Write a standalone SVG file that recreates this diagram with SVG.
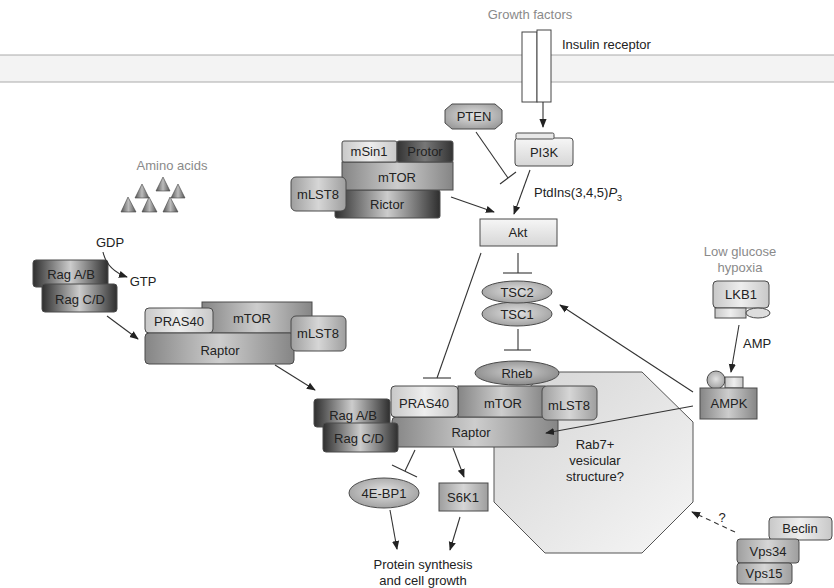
<svg xmlns="http://www.w3.org/2000/svg" width="834" height="588" viewBox="0 0 834 588">
<defs>
<style>
text{font-family:"Liberation Sans",Arial,sans-serif;font-size:13px;fill:#222;text-anchor:middle}
.g{fill:#8a8a8a}
.lbl{text-anchor:start}
.box{stroke:#4a4a4a;stroke-width:1}
.ln{stroke:#333;stroke-width:1.1;fill:none}
.ar{marker-end:url(#arr)}
</style>
<marker id="arr" viewBox="0 0 10 10" refX="9" refY="5" markerWidth="9" markerHeight="9" orient="auto" markerUnits="userSpaceOnUse"><path d="M0,1 L10,5 L0,9 z" fill="#222"/></marker>
<linearGradient id="gDark" x1="0" y1="0" x2="1" y2="0"><stop offset="0" stop-color="#2e2e2e"/><stop offset="0.2" stop-color="#6e6e6e"/><stop offset="0.5" stop-color="#cccccc"/><stop offset="0.8" stop-color="#6e6e6e"/><stop offset="1" stop-color="#2e2e2e"/></linearGradient>
<linearGradient id="gMid" x1="0" y1="0" x2="1" y2="0"><stop offset="0" stop-color="#858585"/><stop offset="0.5" stop-color="#cdcdcd"/><stop offset="1" stop-color="#858585"/></linearGradient>
<linearGradient id="gMidL" x1="0" y1="0" x2="1" y2="0"><stop offset="0" stop-color="#9e9e9e"/><stop offset="0.5" stop-color="#d6d6d6"/><stop offset="1" stop-color="#9e9e9e"/></linearGradient>
<linearGradient id="gLight" x1="0" y1="0" x2="1" y2="0"><stop offset="0" stop-color="#c8c8c8"/><stop offset="0.5" stop-color="#eeeeee"/><stop offset="1" stop-color="#c8c8c8"/></linearGradient>
<linearGradient id="gProtor" x1="0" y1="0" x2="1" y2="0"><stop offset="0" stop-color="#333"/><stop offset="0.5" stop-color="#777"/><stop offset="1" stop-color="#333"/></linearGradient>
<linearGradient id="gV" x1="0" y1="0" x2="0" y2="1"><stop offset="0" stop-color="#f6f6f6"/><stop offset="1" stop-color="#d6d6d6"/></linearGradient>
<radialGradient id="gEll" cx="0.5" cy="0.45" r="0.6"><stop offset="0" stop-color="#e2e2e2"/><stop offset="1" stop-color="#9c9c9c"/></radialGradient>
<radialGradient id="gEllD" cx="0.5" cy="0.45" r="0.6"><stop offset="0" stop-color="#cfcfcf"/><stop offset="1" stop-color="#868686"/></radialGradient>
<linearGradient id="gOct" x1="0" y1="0" x2="1" y2="1"><stop offset="0" stop-color="#d4d4d4"/><stop offset="1" stop-color="#f6f6f6"/></linearGradient>
<linearGradient id="gTri" x1="0" y1="0" x2="1" y2="0"><stop offset="0" stop-color="#555"/><stop offset="0.5" stop-color="#bbb"/><stop offset="1" stop-color="#555"/></linearGradient>
</defs>

<g id="membrane">
<rect x="0" y="55" width="834" height="27" fill="#f3f3f3"/>
<line x1="0" y1="55" x2="834" y2="55" stroke="#aaa"/>
<line x1="0" y1="82" x2="834" y2="82" stroke="#aaa"/>
</g>
<text class="g" x="530" y="19">Growth factors</text>

<g id="insulin-receptor">
<rect x="522" y="32" width="15" height="70" fill="#fff" stroke="#444"/>
<rect x="537" y="30" width="14" height="72" fill="#fff" stroke="#444"/>
<text class="lbl" x="562" y="49">Insulin receptor</text>
</g>

<g id="rab7-vesicle">
<polygon points="545,372 642,372 693,422 693,502 642,553 545,553 494,502 494,422" fill="url(#gOct)" stroke="#555"/>
<text x="595" y="449">Rab7+</text>
<text x="595" y="465">vesicular</text>
<text x="595" y="481">structure?</text>
</g>

<g id="PTEN">
<polygon class="box" points="452,104 495,104 502,110 502,123 495,129 452,129 445,123 445,110" fill="url(#gEll)"/>
<text x="474" y="121">PTEN</text>
</g>

<g id="PI3K">
<rect class="box" x="515" y="138" width="58" height="28" rx="3" fill="url(#gV)"/>
<rect class="box" x="516" y="133" width="38" height="6" rx="1.5" fill="#e8e8e8"/>
<text x="544" y="157">PI3K</text>
</g>

<g id="mTORC2">
<rect class="box" x="335" y="190" width="105" height="28" rx="2" fill="url(#gDark)"/>
<rect class="box" x="342" y="162" width="111" height="28" fill="url(#gMid)"/>
<rect class="box" x="342" y="141" width="55" height="21" rx="2" fill="url(#gLight)"/>
<rect class="box" x="397" y="141" width="56" height="21" rx="2" fill="url(#gProtor)"/>
<rect class="box" x="291" y="177" width="55" height="34" rx="5" fill="url(#gMidL)"/>
<text x="369" y="156">mSin1</text>
<text x="425" y="156" fill="#e6e6e6">Protor</text>
<text x="397" y="182">mTOR</text>
<text x="387" y="209">Rictor</text>
<text x="318" y="199">mLST8</text>
</g>

<g id="Akt">
<rect class="box" x="480" y="219" width="77" height="27" fill="url(#gV)"/>
<text x="518" y="237">Akt</text>
</g>

<g id="TSC">
<ellipse class="box" cx="517" cy="314" rx="35" ry="12" fill="url(#gEll)"/>
<ellipse class="box" cx="517" cy="292" rx="35" ry="11" fill="url(#gEll)"/>
<text x="517" y="297">TSC2</text>
<text x="517" y="319">TSC1</text>
</g>

<g id="amino-acids">
<text class="g" x="172" y="170">Amino acids</text>
<polygon points="163,177 156,191 170,191" fill="url(#gTri)" stroke="#444" stroke-width="0.6"/>
<polygon points="142,184 135,198 149,198" fill="url(#gTri)" stroke="#444" stroke-width="0.6"/>
<polygon points="178,184 171,198 185,198" fill="url(#gTri)" stroke="#444" stroke-width="0.6"/>
<polygon points="128,197 121,212 136,212" fill="url(#gTri)" stroke="#444" stroke-width="0.6"/>
<polygon points="149,197 142,212 157,212" fill="url(#gTri)" stroke="#444" stroke-width="0.6"/>
<polygon points="170,197 163,212 178,212" fill="url(#gTri)" stroke="#444" stroke-width="0.6"/>
</g>

<g id="Rag-left">
<rect class="box" x="33" y="260" width="75" height="27" rx="3" fill="url(#gDark)"/>
<rect class="box" x="42" y="284" width="75" height="28" rx="3" fill="url(#gDark)"/>
<text x="71" y="279">Rag A/B</text>
<text x="80" y="304">Rag C/D</text>
</g>

<g id="mTORC1-left">
<rect class="box" x="202" y="302" width="110" height="31" fill="url(#gMid)"/>
<rect class="box" x="145" y="308" width="68" height="25" rx="4" fill="url(#gLight)"/>
<rect class="box" x="145" y="333" width="149" height="31" rx="4" fill="url(#gMid)"/>
<rect class="box" x="291" y="316" width="55" height="35" rx="5" fill="url(#gMidL)"/>
<text x="179" y="326">PRAS40</text>
<text x="252" y="323">mTOR</text>
<text x="220" y="355">Raptor</text>
<text x="318" y="338">mLST8</text>
</g>

<g id="Rheb">
<ellipse class="box" cx="517" cy="373" rx="42" ry="12" fill="url(#gEllD)"/>
<text x="517" y="378">Rheb</text>
</g>

<g id="mTORC1">
<rect class="box" x="392" y="417" width="166" height="30" rx="4" fill="url(#gMid)"/>
<rect class="box" x="458" y="386" width="87" height="31" fill="url(#gMid)"/>
<rect class="box" x="391" y="386" width="67" height="31" rx="4" fill="url(#gLight)"/>
<rect class="box" x="542" y="386" width="55" height="34" rx="5" fill="url(#gMidL)"/>
<text x="424" y="408">PRAS40</text>
<text x="503" y="408">mTOR</text>
<text x="569" y="410">mLST8</text>
<text x="471" y="437">Raptor</text>
</g>

<g id="Rag-center">
<rect class="box" x="314" y="399" width="76" height="28" rx="3" fill="url(#gDark)"/>
<rect class="box" x="323" y="423" width="75" height="29" rx="3" fill="url(#gDark)"/>
<text x="353" y="420">Rag A/B</text>
<text x="359" y="443">Rag C/D</text>
</g>

<g id="LKB1">
<text class="g" x="740" y="256">Low glucose</text>
<text class="g" x="740" y="272">hypoxia</text>
<rect class="box" x="713" y="281" width="56" height="27" rx="4" fill="url(#gLight)"/>
<rect class="box" x="715" y="308" width="31" height="10" fill="url(#gLight)"/>
<ellipse class="box" cx="758" cy="313" rx="12" ry="5" fill="#ddd"/>
<text x="741" y="299">LKB1</text>
</g>

<g id="AMPK">
<circle class="box" cx="716" cy="380" r="9" fill="url(#gEll)"/>
<rect class="box" x="725" y="377" width="18" height="11" fill="url(#gLight)"/>
<rect class="box" x="700" y="388" width="57" height="31" fill="url(#gMid)"/>
<text x="729" y="408">AMPK</text>
</g>

<g id="4E-BP1">
<ellipse class="box" cx="384" cy="493" rx="35" ry="15" fill="url(#gEll)"/>
<text x="384" y="498">4E-BP1</text>
</g>

<g id="S6K1">
<rect class="box" x="439" y="483" width="49" height="28" fill="url(#gMidL)"/>
<text x="463" y="502">S6K1</text>
</g>

<g id="output">
<text x="423" y="569">Protein synthesis</text>
<text x="423" y="585">and cell growth</text>
</g>

<g id="Beclin-Vps">
<rect class="box" x="769" y="517" width="63" height="23" rx="4" fill="url(#gLight)"/>
<rect class="box" x="737" y="539" width="62" height="24" rx="3" fill="url(#gMidL)"/>
<rect class="box" x="737" y="563" width="55" height="21" rx="3" fill="url(#gMidL)"/>
<text x="800" y="533" fill="#555">Beclin</text>
<text x="768" y="556">Vps34</text>
<text x="764" y="578">Vps15</text>
</g>

<g id="connectors">
<line class="ln ar" x1="543" y1="102" x2="543" y2="127"/>
<line class="ln" x1="476" y1="132" x2="508" y2="178"/>
<line class="ln" x1="500" y1="184" x2="516" y2="172"/>
<line class="ln ar" x1="530" y1="170" x2="514" y2="214"/>
<line class="ln ar" x1="451" y1="197" x2="494" y2="212"/>
<line class="ln" x1="518" y1="253" x2="518" y2="273"/>
<line class="ln" x1="503" y1="273" x2="532" y2="273"/>
<line class="ln" x1="518" y1="329" x2="518" y2="350"/>
<line class="ln" x1="504" y1="350" x2="531" y2="350"/>
<line class="ln" x1="481" y1="253" x2="437" y2="378"/>
<line class="ln" x1="423" y1="378" x2="451" y2="378"/>
<line class="ln ar" x1="693" y1="392" x2="560" y2="305"/>
<line class="ln ar" x1="693" y1="406" x2="546" y2="433"/>
<line class="ln ar" x1="739" y1="325" x2="731" y2="372"/>
<path class="ln ar" d="M103,252 Q107,270 127,277"/>
<line class="ln ar" x1="107" y1="316" x2="138" y2="339"/>
<line class="ln ar" x1="275" y1="365" x2="315" y2="390"/>
<line class="ln" x1="415" y1="450" x2="405" y2="471"/>
<line class="ln" x1="392" y1="465" x2="417" y2="477"/>
<line class="ln ar" x1="453" y1="448" x2="464" y2="477"/>
<line class="ln ar" x1="390" y1="510" x2="397" y2="549"/>
<line class="ln ar" x1="460" y1="517" x2="450" y2="550"/>
<line class="ln ar" x1="735" y1="532" x2="692" y2="512" stroke-dasharray="5,4"/>
<text x="722" y="522" font-size="12">?</text>
<text class="lbl" x="743" y="348">AMP</text>
<text x="110" y="247">GDP</text>
<text x="143" y="286">GTP</text>
<text class="lbl" x="534" y="197">PtdIns(3,4,5)<tspan font-style="italic">P</tspan><tspan font-size="9" dy="4">3</tspan></text>
</g>
</svg>
